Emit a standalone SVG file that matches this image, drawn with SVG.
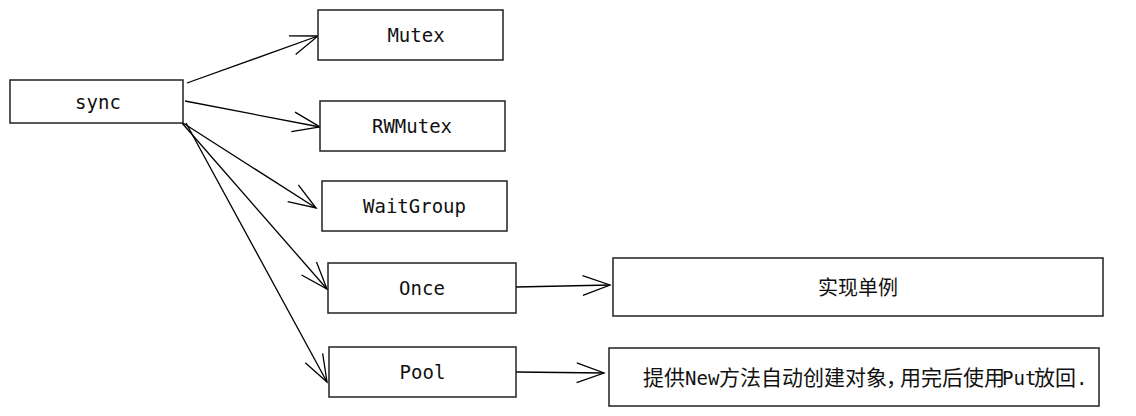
<svg xmlns="http://www.w3.org/2000/svg" width="1136" height="416" viewBox="0 0 1136 416">
  <defs>
    <marker id="open" markerUnits="userSpaceOnUse" markerWidth="40" markerHeight="30" viewBox="-32 -15 40 30" refX="0" refY="0" orient="auto" overflow="visible">
      <path d="M -27.3 -9.9 L 0 0 L -27.3 9.9" fill="none" stroke="#000" stroke-width="1.3"/>
    </marker>
  </defs>
  <style>
    .box { fill: #fff; stroke: #222; stroke-width: 1.5; }
    .lbl { font-family: "DejaVu Sans Mono", "Noto Sans CJK SC", monospace; font-size: 19px; fill: #111; text-anchor: middle; }
    .cn { font-family: "DejaVu Sans Mono", "Noto Sans CJK SC", monospace; font-size: 19px; fill: #111; }
    .cjk { font-family: "Noto Sans CJK SC", sans-serif; font-size: 21px; }
    .edge { fill: none; stroke: #000; stroke-width: 1.3; marker-end: url(#open); }
  </style>
  <rect width="1136" height="416" fill="#fff"/>
  <g id="connectors">
    <line class="edge" x1="187" y1="83" x2="318" y2="36"/>
    <line class="edge" x1="185" y1="101" x2="320" y2="127"/>
    <line class="edge" x1="183" y1="123" x2="316" y2="208"/>
    <line class="edge" x1="182" y1="123" x2="327" y2="289"/>
    <line class="edge" x1="186" y1="123" x2="327" y2="382"/>
    <line class="edge" x1="516" y1="287" x2="610" y2="285"/>
    <line class="edge" x1="516" y1="372" x2="604" y2="373"/>
  </g>
  <g id="sync">
    <rect class="box" x="10" y="80" width="173" height="43"/>
    <text class="lbl" x="98" y="108.5">sync</text>
  </g>
  <g id="mutex">
    <rect class="box" x="318" y="10" width="185" height="50"/>
    <text class="lbl" x="416" y="42">Mutex</text>
  </g>
  <g id="rwmutex">
    <rect class="box" x="320" y="101" width="185" height="50"/>
    <text class="lbl" x="412" y="133">RWMutex</text>
  </g>
  <g id="waitgroup">
    <rect class="box" x="322" y="181" width="185" height="50"/>
    <text class="lbl" x="414.5" y="213">WaitGroup</text>
  </g>
  <g id="once">
    <rect class="box" x="328" y="263" width="188" height="50"/>
    <text class="lbl" x="422" y="295">Once</text>
  </g>
  <g id="pool">
    <rect class="box" x="329" y="347" width="187" height="50"/>
    <text class="lbl" x="422.5" y="379">Pool</text>
  </g>
  <g id="singleton">
    <rect class="box" x="613" y="258" width="490" height="58"/>
    <text class="lbl cjk" x="858" y="295" style="font-size:20px">实现单例</text>
  </g>
  <g id="pooldesc">
    <rect class="box" x="609" y="348" width="490" height="58"/>
    <text class="cn" y="385"><tspan class="cjk" x="643">提供</tspan><tspan x="685">New</tspan><tspan class="cjk" x="719">方法自动创建对象</tspan><tspan class="cjk" x="886" letter-spacing="-10">，</tspan><tspan class="cjk" x="900">用完后使用</tspan><tspan x="1002">Put</tspan><tspan class="cjk" x="1034">放回</tspan><tspan x="1076">.</tspan></text>
  </g>
</svg>
